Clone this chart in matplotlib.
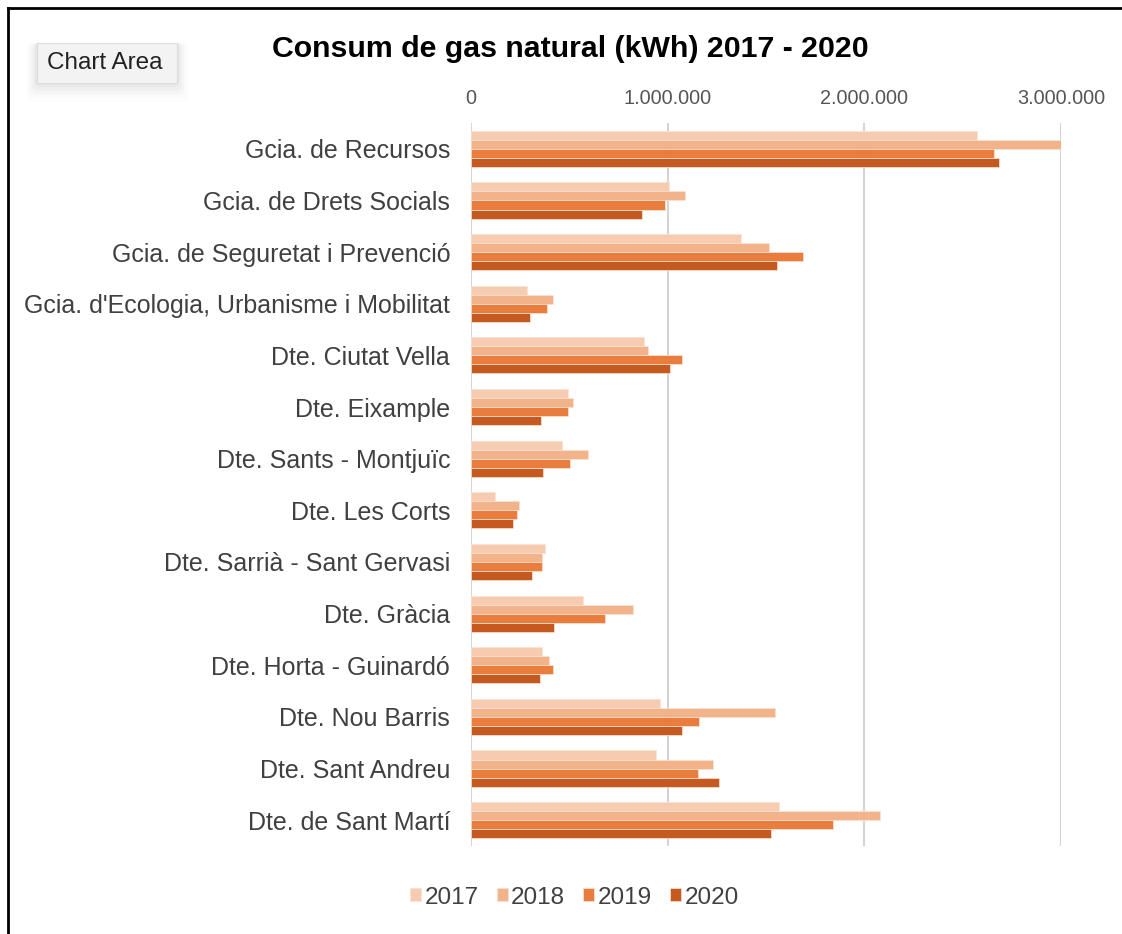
import matplotlib.pyplot as plt
import numpy as np
from matplotlib.lines import Line2D
from matplotlib.patches import FancyBboxPatch
from matplotlib.ticker import FuncFormatter

plt.rcParams['font.family'] = ['Liberation Sans', 'DejaVu Sans']

categories = [
    'Gcia. de Recursos',
    'Gcia. de Drets Socials',
    'Gcia. de Seguretat i Prevenció',
    "Gcia. d'Ecologia, Urbanisme i Mobilitat",
    'Dte. Ciutat Vella',
    'Dte. Eixample',
    'Dte. Sants - Montjuïc',
    'Dte. Les Corts',
    'Dte. Sarrià - Sant Gervasi',
    'Dte. Gràcia',
    'Dte. Horta - Guinardó',
    'Dte. Nou Barris',
    'Dte. Sant Andreu',
    'Dte. de Sant Martí',
]
years = ['2017', '2018', '2019', '2020']

# valors en kWh llegits del gràfic
v2017 = [2574000, 1008000, 1371000, 287000, 878000, 495000, 462000, 124000, 375000, 572000, 363000, 963000, 943000, 1566000]
v2018 = [3000000, 1086000, 1513000, 418000, 900000, 517000, 595000, 244000, 363000, 823000, 397000, 1546000, 1228000, 2081000]
v2019 = [2660000, 988000, 1688000, 385000, 1075000, 495000, 505000, 234000, 363000, 680000, 418000, 1161000, 1153000, 1839000]
v2020 = [2684000, 868000, 1558000, 299000, 1010000, 354000, 365000, 212000, 310000, 420000, 352000, 1073000, 1261000, 1523000]

colors = ['#F6CBB0', '#F2B28A', '#E97D3E', '#C45A20']
series = [v2017, v2018, v2019, v2020]

fig = plt.figure(figsize=(11.22, 9.34), dpi=100)
ax = fig.add_axes([0.4198, 0.0942, 0.5258, 0.7741])

y = np.arange(len(categories))
h = 0.175
for i, (vals, col, yr) in enumerate(zip(series, colors, years)):
    ax.barh(y - 1.5 * h + i * h, vals, height=h, color=col, label=yr,
            edgecolor='#fbe3d5', linewidth=0.5, zorder=3)

ax.set_xlim(0, 3000000)
ax.set_ylim(len(categories) - 0.5, -0.5)
ax.set_xticks([0, 1000000, 2000000, 3000000])
ax.xaxis.set_major_formatter(FuncFormatter(lambda v, p: f'{int(v):,}'.replace(',', '.')))
ax.xaxis.tick_top()
ax.tick_params(axis='x', length=0, pad=11, labelsize=14.3, labelcolor='#555555')
ax.set_yticks(y)
ax.set_yticklabels(categories)
ax.tick_params(axis='y', length=0, pad=15, labelsize=18, labelcolor='#404040')
ax.grid(axis='x', color='#d4d4d4', linewidth=1.5, zorder=0)
for s in ax.spines.values():
    s.set_visible(False)

fig.text(0.508, 0.948, 'Consum de gas natural (kWh) 2017 - 2020', ha='center', va='center',
         fontsize=21.8, fontweight='bold', color='black')

leg = ax.legend(loc='center', bbox_to_anchor=(0.512, 0.039), bbox_transform=fig.transFigure,
                ncol=4, frameon=False, fontsize=17.5, handlelength=0.45, handleheight=0.45,
                handletextpad=0.15, columnspacing=0.75)
for t in leg.get_texts():
    t.set_color('#404040')

# "Chart Area" tooltip
for k, a in enumerate([0.035, 0.025, 0.018, 0.012, 0.008]):
    d = 0.002 * (k + 1)
    fig.patches.append(FancyBboxPatch((0.033 - d, 0.911 - d * 2.0), 0.125 + 2 * d, 0.043 + 2 * d,
                                      boxstyle='round,pad=0,rounding_size=0.006', transform=fig.transFigure,
                                      facecolor='black', alpha=a, edgecolor='none'))
fig.patches.append(FancyBboxPatch((0.033, 0.911), 0.125, 0.043, boxstyle='square,pad=0',
                                  transform=fig.transFigure, facecolor='#f3f3f3',
                                  edgecolor='#dcdcdc', linewidth=0.8))
fig.text(0.0935, 0.9325, 'Chart Area', ha='center', va='center', fontsize=17.5, color='#222222')

# marc exterior
fig.add_artist(Line2D([0.0075, 1.0], [0.9915, 0.9915], color='black', linewidth=2, transform=fig.transFigure))
fig.add_artist(Line2D([0.0075, 0.0075], [0.0, 0.9915], color='black', linewidth=2, transform=fig.transFigure))

fig.savefig('out.png', dpi=100, facecolor='white')
